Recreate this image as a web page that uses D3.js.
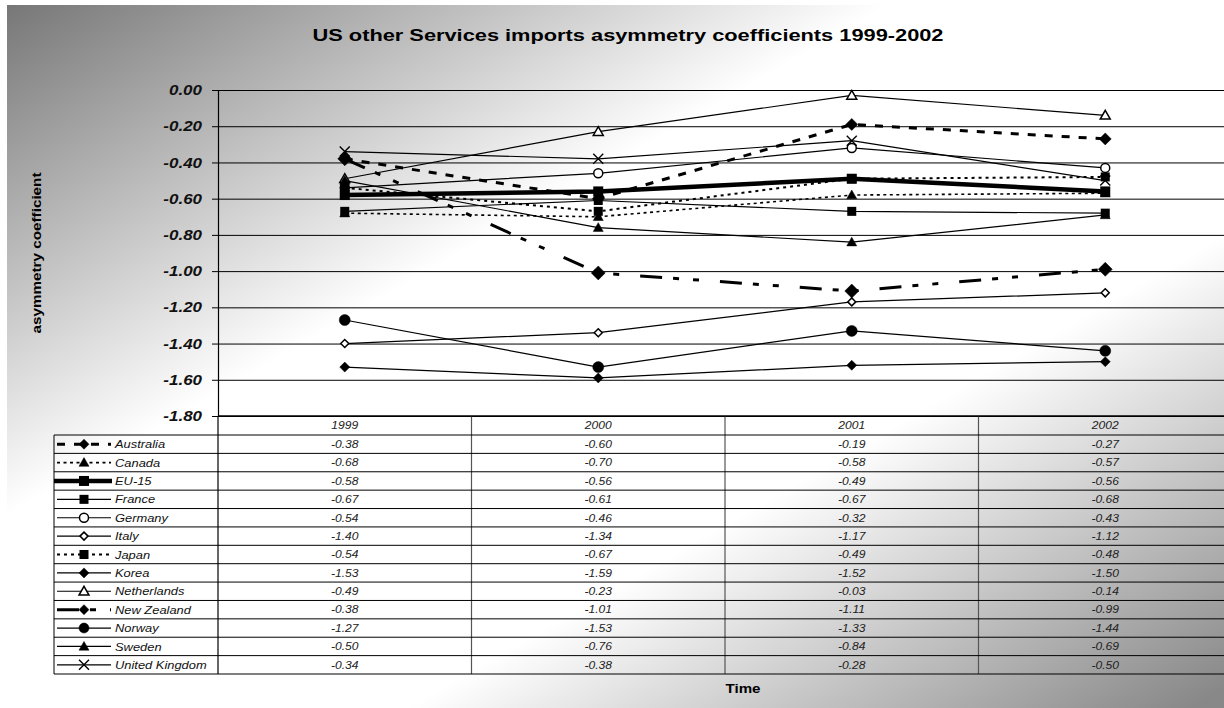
<!DOCTYPE html>
<html>
<head>
<meta charset="utf-8">
<script src="https://cdn.jsdelivr.net/npm/d3@7"></script>
<style>
  html, body { margin: 0; padding: 0; background: #fff; }
  svg { display: block; font-family: "Liberation Sans", Arial, sans-serif; }
</style>
</head>
<body>
<svg id="chart" width="1224" height="708"></svg>
<script>
// ---- data ----
const years = ["1999", "2000", "2001", "2002"];
const yTicks = [0, -0.2, -0.4, -0.6, -0.8, -1.0, -1.2, -1.4, -1.6, -1.8];

const australia     = [-0.38, -0.60, -0.19, -0.27];
const canada        = [-0.68, -0.70, -0.58, -0.57];
const eu15          = [-0.58, -0.56, -0.49, -0.56];
const france        = [-0.67, -0.61, -0.67, -0.68];
const germany       = [-0.54, -0.46, -0.32, -0.43];
const italy         = [-1.40, -1.34, -1.17, -1.12];
const japan         = [-0.54, -0.67, -0.49, -0.48];
const korea         = [-1.53, -1.59, -1.52, -1.50];
const netherlands   = [-0.49, -0.23, -0.03, -0.14];
const newZealand    = [-0.38, -1.01, -1.11, -0.99];
const norway        = [-1.27, -1.53, -1.33, -1.44];
const sweden        = [-0.50, -0.76, -0.84, -0.69];
const unitedKingdom = [-0.34, -0.38, -0.28, -0.50];

const countries = ["Australia", "Canada", "EU-15", "France", "Germany", "Italy", "Japan",
                   "Korea", "Netherlands", "New Zealand", "Norway", "Sweden", "United Kingdom"];
const seriesValues = [australia, canada, eu15, france, germany, italy, japan,
                      korea, netherlands, newZealand, norway, sweden, unitedKingdom];

// ---- line and marker styles per series ----
const styles = {
  "Australia":      { w: 3,   dash: "8,9",   marker: "diamond",  size: 6,   fill: "#000" },
  "Canada":         { w: 1.6, dash: "3,3.5", marker: "triangle", size: 5,   fill: "#000" },
  "EU-15":          { w: 4.5, dash: null,    marker: "square",   size: 5,   fill: "#000" },
  "France":         { w: 1.2, dash: null,    marker: "square",   size: 4.5, fill: "#000" },
  "Germany":        { w: 1.2, dash: null,    marker: "circle",   size: 4.5, fill: "#fff" },
  "Italy":          { w: 1.2, dash: null,    marker: "diamond",  size: 4,   fill: "#fff" },
  "Japan":          { w: 2,   dash: "3,4",   marker: "square",   size: 4.5, fill: "#000" },
  "Korea":          { w: 1.2, dash: null,    marker: "diamond",  size: 5,   fill: "#000" },
  "Netherlands":    { w: 1.2, dash: null,    marker: "triangle", size: 5,   fill: "#fff" },
  "New Zealand":    { w: 3,   dash: "22,11,6,14,6,21", marker: "diamond", size: 7, fill: "#000" },
  "Norway":         { w: 1.2, dash: null,    marker: "circle",   size: 5.5, fill: "#000" },
  "Sweden":         { w: 1.2, dash: null,    marker: "triangle", size: 5,   fill: "#000" },
  "United Kingdom": { w: 1.2, dash: null,    marker: "x",        size: 5,   fill: "none" }
};

// ---- layout ----
const plot = { left: 218, right: 1232, top: 90, bottom: 416 };
const table = { legendLeft: 54, headerBottom: 435, bottom: 674 };
const rowH = (table.bottom - table.headerBottom) / countries.length;
const SX = 1.17; // horizontal text widening

const svg = d3.select("#chart");
const fmt = d3.formatLocale({ decimal: ".", thousands: ",", grouping: [3], currency: ["", ""], minus: "-" }).format(".2f");

const x = d3.scaleBand().domain(years).range([plot.left, plot.right]);
const y = d3.scaleLinear().domain([-1.8, 0]).range([plot.bottom, plot.top]);

function widen(sel, k) {
  sel.each(function () {
    const L = this.getComputedTextLength();
    d3.select(this).attr("textLength", L * k).attr("lengthAdjust", "spacingAndGlyphs");
  });
}
function fitTo(sel, len) {
  sel.attr("textLength", len).attr("lengthAdjust", "spacingAndGlyphs");
}

// ---- background ----
const defs = svg.append("defs");
const grad = defs.append("linearGradient").attr("id", "bg")
  .attr("x1", 0).attr("y1", 0).attr("x2", 1).attr("y2", 1);
grad.append("stop").attr("offset", 0).attr("stop-color", "#777777");
grad.append("stop").attr("offset", 0.36).attr("stop-color", "#ffffff");
grad.append("stop").attr("offset", 0.66).attr("stop-color", "#ffffff");
grad.append("stop").attr("offset", 0.98).attr("stop-color", "#888888");
svg.append("rect").attr("x", 7).attr("y", 5).attr("width", 1224).attr("height", 708).attr("fill", "url(#bg)");

// ---- title ----
svg.append("text").attr("x", 628).attr("y", 41).attr("text-anchor", "middle")
  .attr("font-size", 16).attr("font-weight", "bold").attr("fill", "#000")
  .text("US other Services imports asymmetry coefficients 1999-2002")
  .call(fitTo, 631);

// ---- y axis, grid ----
const grid = svg.append("g").attr("transform", `translate(${plot.left},0)`)
  .call(d3.axisLeft(y).tickValues(yTicks).tickSize(-(plot.right - plot.left)).tickFormat(""));
grid.select(".domain").remove();
grid.selectAll(".tick line").attr("stroke", "#000").attr("stroke-width", 1);

const yAxis = svg.append("g").attr("transform", `translate(${plot.left},0)`)
  .call(d3.axisLeft(y).tickValues(yTicks).tickSize(6).tickPadding(10).tickFormat(fmt));
yAxis.select(".domain").attr("stroke", "#000").attr("stroke-width", 1.2);
yAxis.selectAll(".tick line").attr("stroke", "#000");
yAxis.selectAll(".tick text")
  .attr("font-family", '"Liberation Sans", Arial, sans-serif')
  .attr("font-size", 14.5).attr("font-weight", "bold").attr("font-style", "italic")
  .attr("fill", "#111")
  .call(widen, SX);

svg.append("text")
  .attr("transform", "translate(41,253) rotate(-90)")
  .attr("text-anchor", "middle")
  .attr("font-size", 12.5).attr("font-weight", "bold").attr("fill", "#000")
  .text("asymmetry coefficient")
  .call(fitTo, 161);

// ---- data table ----
const tbl = svg.append("g");
// column separators
tbl.selectAll("line.col").data(years.slice(1)).join("line").attr("class", "col")
  .attr("x1", d => x(d)).attr("x2", d => x(d))
  .attr("y1", plot.bottom).attr("y2", table.bottom)
  .attr("stroke", "#555").attr("stroke-width", 1.2);
// row lines
const rowLines = d3.range(countries.length + 1);
tbl.selectAll("line.row").data(rowLines).join("line").attr("class", "row")
  .attr("x1", table.legendLeft).attr("x2", plot.right)
  .attr("y1", i => table.headerBottom + i * rowH).attr("y2", i => table.headerBottom + i * rowH)
  .attr("stroke", "#000").attr("stroke-width", 1);
// x axis line (top of table) and borders
tbl.append("line").attr("x1", plot.left).attr("x2", plot.right).attr("y1", plot.bottom).attr("y2", plot.bottom)
  .attr("stroke", "#000").attr("stroke-width", 1.4);
tbl.append("line").attr("x1", plot.left).attr("x2", plot.left).attr("y1", plot.bottom).attr("y2", table.bottom)
  .attr("stroke", "#000").attr("stroke-width", 1.2);
tbl.append("line").attr("x1", table.legendLeft).attr("x2", table.legendLeft).attr("y1", table.headerBottom).attr("y2", table.bottom)
  .attr("stroke", "#000").attr("stroke-width", 1);

// header
tbl.selectAll("text.hdr").data(years).join("text").attr("class", "hdr")
  .attr("x", d => x(d) + x.bandwidth() / 2).attr("y", (plot.bottom + table.headerBottom) / 2).attr("dy", "0.36em")
  .attr("text-anchor", "middle").attr("font-size", 10.5).attr("font-style", "italic").attr("fill", "#222")
  .text(d => d).call(widen, 1.15);

// values
countries.forEach((c, i) => {
  const cy = table.headerBottom + (i + 0.5) * rowH;
  tbl.selectAll(null).data(seriesValues[i]).join("text")
    .attr("x", (d, j) => x(years[j]) + x.bandwidth() / 2).attr("y", cy).attr("dy", "0.36em")
    .attr("text-anchor", "middle").attr("font-size", 10.5).attr("font-style", "italic").attr("fill", "#222")
    .text(d => fmt(d)).call(widen, 1.15);
});

// ---- markers ----
function drawMarker(g, type, s, fill, cx, cy) {
  const m = g.append("g").attr("transform", `translate(${cx},${cy})`);
  if (type === "diamond") {
    m.append("path").attr("d", `M0,${-s} L${s},0 L0,${s} L${-s},0Z`)
      .attr("fill", fill).attr("stroke", "#000").attr("stroke-width", fill === "#fff" ? 1.5 : 0.5);
  } else if (type === "square") {
    m.append("rect").attr("x", -s).attr("y", -s).attr("width", 2 * s).attr("height", 2 * s).attr("fill", fill);
  } else if (type === "triangle") {
    m.append("path").attr("d", `M0,${-s} L${s},${s * 0.75} L${-s},${s * 0.75}Z`)
      .attr("fill", fill).attr("stroke", "#000").attr("stroke-width", fill === "#fff" ? 1.5 : 0.5);
  } else if (type === "circle") {
    m.append("circle").attr("r", s).attr("fill", fill).attr("stroke", "#000").attr("stroke-width", fill === "#fff" ? 1.5 : 0.5);
  } else if (type === "x") {
    m.append("path").attr("d", `M${-s},${-s} L${s},${s} M${s},${-s} L${-s},${s}`)
      .attr("stroke", "#000").attr("stroke-width", 1.4).attr("fill", "none");
  }
}

// ---- series lines ----
const line = d3.line().x((d, j) => x(years[j]) + x.bandwidth() / 2).y(d => y(d));
const linesG = svg.append("g");
countries.forEach((c, i) => {
  const st = styles[c];
  linesG.append("path").datum(seriesValues[i]).attr("d", line)
    .attr("fill", "none").attr("stroke", "#000").attr("stroke-width", st.w)
    .attr("stroke-dasharray", st.dash).attr("stroke-linejoin", "round");
  seriesValues[i].forEach((v, j) =>
    drawMarker(linesG, st.marker, st.size, st.fill, x(years[j]) + x.bandwidth() / 2, y(v)));
});

// ---- legend keys in the table ----
countries.forEach((c, i) => {
  const st = styles[c];
  const cy = table.headerBottom + (i + 0.5) * rowH;
  const g = tbl.append("g");
  const x0 = c === "EU-15" ? 54 : 57, x1 = c === "EU-15" ? 112 : 111;
  g.append("line").attr("x1", x0).attr("x2", x1).attr("y1", cy).attr("y2", cy)
    .attr("stroke", "#000").attr("stroke-width", st.w).attr("stroke-dasharray", st.dash);
  drawMarker(g, st.marker, Math.min(st.size, 5), st.fill, 84, cy);
  g.append("text").attr("x", 115).attr("y", cy).attr("dy", "0.36em")
    .attr("font-size", 11.5).attr("font-style", "italic").attr("fill", "#111")
    .text(c).call(widen, 1.12);
});

// ---- x axis title ----
svg.append("text").attr("x", 743).attr("y", 693).attr("text-anchor", "middle")
  .attr("font-size", 13.5).attr("font-weight", "bold").attr("fill", "#000")
  .text("Time").call(widen, 1.12);
</script>
</body>
</html>
